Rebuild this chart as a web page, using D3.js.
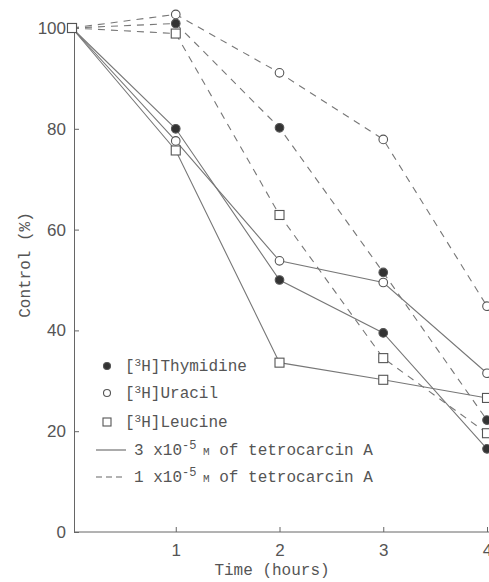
<!DOCTYPE html>
<html>
<head>
<meta charset="utf-8">
<script src="https://cdn.jsdelivr.net/npm/d3@7"></script>
<style>
  body { margin: 0; background: #fff; }
  svg { display: block; }
  .tick text { font-family: "Liberation Sans", Arial, sans-serif; font-size: 17px; fill: #555; }
  .lab { font-family: "Liberation Mono", "DejaVu Sans Mono", monospace; fill: #555; }
</style>
</head>
<body>
<svg id="area" width="489" height="582"></svg>
<script>
const hours = [0, 1, 2, 3, 4];

// solid: 3x10^-5 M, dashed: 1x10^-5 M
const thymidineHigh = [100, 80.0, 50.0, 39.5, 16.5];
const uracilHigh = [100, 77.6, 53.8, 49.5, 31.5];
const leucineHigh = [100, 75.7, 33.6, 30.2, 26.6];
const thymidineLow = [100, 100.9, 80.2, 51.5, 22.2];
const uracilLow = [100, 102.7, 91.1, 77.9, 44.8];
const leucineLow = [100, 98.9, 62.9, 34.5, 19.6];

const yTicks = [0, 20, 40, 60, 80, 100];
const xTicks = [1, 2, 3, 4];

const series = [
  { values: thymidineHigh, marker: 'filled', dash: null },
  { values: uracilHigh, marker: 'open', dash: null },
  { values: leucineHigh, marker: 'square', dash: null },
  { values: thymidineLow, marker: 'filled', dash: '7,6' },
  { values: uracilLow, marker: 'open', dash: '7,6' },
  { values: leucineLow, marker: 'square', dash: '7,6' },
];

const svg = d3.select('#area');
const x = d3.scaleLinear([0, 4], [72, 487]);
const y = d3.scaleLinear([0, 100], [532, 28]);

const xAxis = svg.append('g')
  .attr('transform', `translate(0,${y(0)})`)
  .call(d3.axisBottom(x).tickValues(xTicks).tickFormat(d3.format('d'))
    .tickSizeInner(-5).tickSizeOuter(0).tickPadding(12));
xAxis.select('.domain').attr('d', `M${x(0) + 2},0H489`);

svg.append('g')
  .attr('transform', `translate(${x(0) + 2},0)`)
  .call(d3.axisLeft(y).tickValues(yTicks).tickSizeInner(-5).tickSizeOuter(0).tickPadding(8));

svg.selectAll('.domain, .tick line').attr('stroke', '#666').attr('stroke-width', 1);

const line = d3.line()
  .x((d, i) => x(hours[i]))
  .y((d) => y(d));

function drawMarker(g, type, cx, cy, small) {
  const r = small ? 3.5 : 4.3;
  if (type === 'square') {
    const s = small ? 8 : 9;
    g.append('rect')
      .attr('x', cx - s / 2).attr('y', cy - s / 2)
      .attr('width', s).attr('height', s)
      .attr('fill', '#fff').attr('stroke', '#555').attr('stroke-width', 1.1);
  } else {
    g.append('circle')
      .attr('cx', cx).attr('cy', cy).attr('r', r)
      .attr('fill', type === 'filled' ? '#333' : '#fff')
      .attr('stroke', '#555').attr('stroke-width', 1.1);
  }
}

series.forEach((s) => {
  svg.append('path')
    .datum(s.values)
    .attr('d', line)
    .attr('fill', 'none')
    .attr('stroke', '#777')
    .attr('stroke-width', 1.1)
    .attr('stroke-dasharray', s.dash);
});

series.forEach((s) => {
  const g = svg.append('g');
  s.values.forEach((v, i) => drawMarker(g, s.marker, x(hours[i]), y(v), false));
});

// legend
const legend = svg.append('g').attr('class', 'lab').style('font-size', '16px');
const compounds = [
  { name: 'Thymidine', marker: 'filled', yPos: 366 },
  { name: 'Uracil', marker: 'open', yPos: 393 },
  { name: 'Leucine', marker: 'square', yPos: 422 },
];
compounds.forEach((c) => {
  drawMarker(legend, c.marker, 107, c.yPos, true);
  const t = legend.append('text').attr('x', 125).attr('y', c.yPos + 5);
  t.append('tspan').text('[');
  t.append('tspan').attr('dy', -5).style('font-size', '11px').text('3');
  t.append('tspan').attr('dy', 5).text(`H]${c.name}`);
});

const doses = [
  { coef: '3', dash: null, yPos: 450 },
  { coef: '1', dash: '6,4', yPos: 477 },
];
doses.forEach((d) => {
  legend.append('line')
    .attr('x1', 96).attr('x2', 126)
    .attr('y1', d.yPos).attr('y2', d.yPos)
    .attr('stroke', '#666').attr('stroke-width', 1.1)
    .attr('stroke-dasharray', d.dash);
  const t = legend.append('text').attr('x', 134).attr('y', d.yPos + 5);
  t.append('tspan').text(`${d.coef} x10`);
  t.append('tspan').attr('dy', -6).style('font-size', '12px').text('-5');
  t.append('tspan').attr('dy', 6).style('font-size', '11px').text(' M');
  t.append('tspan').text(' of tetrocarcin A');
});

svg.append('text')
  .attr('class', 'lab')
  .attr('transform', 'translate(30,265) rotate(-90)')
  .attr('text-anchor', 'middle')
  .style('font-size', '16px')
  .text('Control (%)');

svg.append('text')
  .attr('class', 'lab')
  .attr('x', 272).attr('y', 575)
  .attr('text-anchor', 'middle')
  .style('font-size', '16px')
  .text('Time (hours)');
</script>
</body>
</html>
